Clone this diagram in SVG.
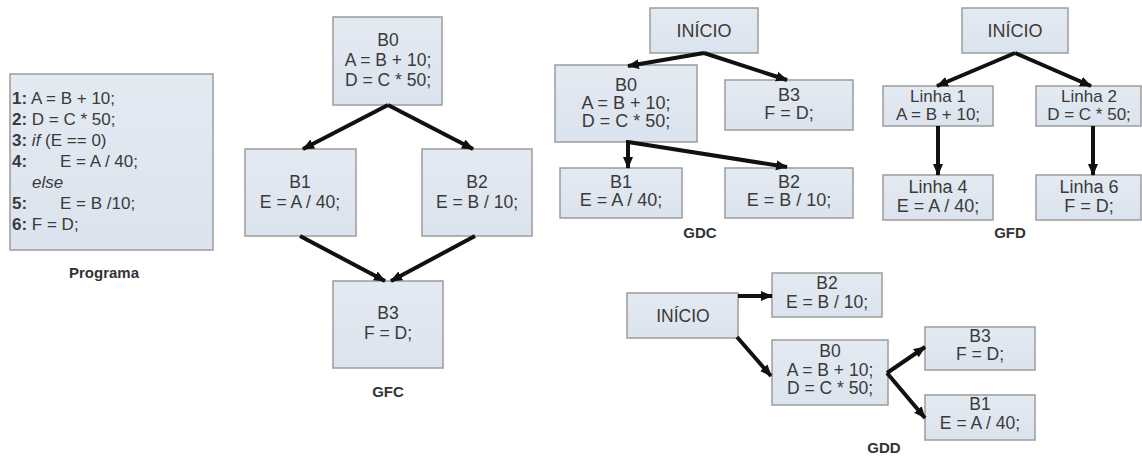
<svg xmlns="http://www.w3.org/2000/svg" width="1142" height="456" viewBox="0 0 1142 456">
  <defs>
    <linearGradient id="boxFill" x1="0" y1="0" x2="0" y2="1">
      <stop offset="0" stop-color="#e4eaf2"/>
      <stop offset="1" stop-color="#dbe3ee"/>
    </linearGradient>
    <marker id="arrow" markerUnits="userSpaceOnUse" markerWidth="12" markerHeight="12" viewBox="0 0 12 12" refX="11" refY="6" orient="auto">
      <path d="M0,1 L12,6 L0,11 z" fill="#111"/>
    </marker>
  </defs>
  <style>
    .box { fill: url(#boxFill); stroke: #9c9c9c; stroke-width: 1.5; }
    .t { font-family: "Liberation Sans", Arial, sans-serif; font-size: 17.5px; fill: #3a3a3a; text-anchor: middle; }
    .t18 { font-size: 18px; }
    .t17 { font-size: 17px; }
    .code { font-family: "Liberation Sans", Arial, sans-serif; font-size: 17px; fill: #3a3a3a; }
    .num { font-weight: bold; }
    .lbl { font-family: "Liberation Sans", Arial, sans-serif; font-size: 15px; font-weight: bold; fill: #333; text-anchor: middle; }
    .edge { stroke: #111; stroke-width: 4; fill: none; stroke-linejoin: miter; marker-end: url(#arrow); }
    .edge2 { stroke: #111; stroke-width: 4; fill: none; }
  </style>
  <rect width="1142" height="456" fill="#ffffff"/>

  <!-- Source program -->
  <g id="programa">
    <rect class="box" x="10" y="74" width="203" height="176"/>
    <text class="code" y="104"><tspan x="12" class="num">1:</tspan><tspan> A = B + 10;</tspan></text>
    <text class="code" y="125"><tspan x="12" class="num">2:</tspan><tspan> D = C * 50;</tspan></text>
    <text class="code" y="146"><tspan x="12" class="num">3:</tspan><tspan> </tspan><tspan font-style="italic">if</tspan><tspan> (E == 0)</tspan></text>
    <text class="code" y="167"><tspan x="12" class="num">4:</tspan><tspan x="60">E = A / 40;</tspan></text>
    <text class="code" y="188"><tspan x="32" font-style="italic">else</tspan></text>
    <text class="code" y="209"><tspan x="12" class="num">5:</tspan><tspan x="60">E = B /10;</tspan></text>
    <text class="code" y="230"><tspan x="12" class="num">6:</tspan><tspan> F = D;</tspan></text>
    <text class="lbl" x="104" y="278">Programa</text>
  </g>

  <!-- GFC: control flow graph -->
  <g id="gfc-b0">
    <rect class="box" x="333" y="17" width="109" height="88"/>
    <text class="t" x="388" y="46">B0</text>
    <text class="t" x="388" y="66">A = B + 10;</text>
    <text class="t" x="388" y="86">D = C * 50;</text>
  </g>
  <g id="gfc-b1">
    <rect class="box" x="245" y="149" width="111" height="87"/>
    <text class="t" x="300" y="188">B1</text>
    <text class="t" x="300" y="208">E = A / 40;</text>
  </g>
  <g id="gfc-b2">
    <rect class="box" x="422" y="149" width="110" height="87"/>
    <text class="t" x="477" y="188">B2</text>
    <text class="t" x="477" y="208">E = B / 10;</text>
  </g>
  <g id="gfc-b3">
    <rect class="box" x="333" y="281" width="110" height="87"/>
    <text class="t" x="388" y="319">B3</text>
    <text class="t" x="388" y="339">F = D;</text>
  </g>
  <text class="lbl" x="388" y="397">GFC</text>

  <!-- GDC: control dependence graph -->
  <g id="gdc-inicio">
    <rect class="box" x="650" y="8" width="108" height="45"/>
    <text class="t t18" x="704" y="37">INÍCIO</text>
  </g>
  <g id="gdc-b0">
    <rect class="box" x="555" y="65" width="142" height="77"/>
    <text class="t t18" x="626" y="91">B0</text>
    <text class="t t18" x="626" y="109">A = B + 10;</text>
    <text class="t t18" x="626" y="127">D = C * 50;</text>
  </g>
  <g id="gdc-b3">
    <rect class="box" x="725" y="80" width="128" height="50"/>
    <text class="t t18" x="789" y="101">B3</text>
    <text class="t t18" x="789" y="119">F = D;</text>
  </g>
  <g id="gdc-b1">
    <rect class="box" x="560" y="168" width="122" height="50"/>
    <text class="t t18" x="621" y="188">B1</text>
    <text class="t t18" x="621" y="206">E = A / 40;</text>
  </g>
  <g id="gdc-b2">
    <rect class="box" x="725" y="168" width="128" height="50"/>
    <text class="t t18" x="789" y="188">B2</text>
    <text class="t t18" x="789" y="206">E = B / 10;</text>
  </g>
  <text class="lbl" x="700" y="238">GDC</text>

  <!-- GFD: data flow graph -->
  <g id="gfd-inicio">
    <rect class="box" x="962" y="8" width="106" height="45"/>
    <text class="t t18" x="1015" y="37">INÍCIO</text>
  </g>
  <g id="gfd-l1">
    <rect class="box" x="883" y="86" width="110" height="40"/>
    <text class="t t17" x="938" y="102">Linha 1</text>
    <text class="t t17" x="938" y="120">A = B + 10;</text>
  </g>
  <g id="gfd-l2">
    <rect class="box" x="1036" y="86" width="105" height="40"/>
    <text class="t t17" x="1089" y="102">Linha 2</text>
    <text class="t t17" x="1089" y="120">D = C * 50;</text>
  </g>
  <g id="gfd-l4">
    <rect class="box" x="883" y="175" width="110" height="45"/>
    <text class="t t18" x="938" y="193">Linha 4</text>
    <text class="t t18" x="938" y="212">E = A / 40;</text>
  </g>
  <g id="gfd-l6">
    <rect class="box" x="1036" y="175" width="105" height="45"/>
    <text class="t t18" x="1089" y="193">Linha 6</text>
    <text class="t t18" x="1089" y="212">F = D;</text>
  </g>
  <text class="lbl" x="1010" y="238">GFD</text>

  <!-- GDD: data dependence graph -->
  <g id="gdd-inicio">
    <rect class="box" x="627" y="293" width="111" height="45"/>
    <text class="t" x="683" y="322">INÍCIO</text>
  </g>
  <g id="gdd-b2">
    <rect class="box" x="772" y="273" width="110" height="44"/>
    <text class="t" x="827" y="289">B2</text>
    <text class="t" x="827" y="308">E = B / 10;</text>
  </g>
  <g id="gdd-b0">
    <rect class="box" x="772" y="340" width="116" height="65"/>
    <text class="t" x="830" y="357">B0</text>
    <text class="t" x="830" y="376">A = B + 10;</text>
    <text class="t" x="830" y="394">D = C * 50;</text>
  </g>
  <g id="gdd-b3">
    <rect class="box" x="925" y="327" width="110" height="43"/>
    <text class="t" x="980" y="342">B3</text>
    <text class="t" x="980" y="360">F = D;</text>
  </g>
  <g id="gdd-b1">
    <rect class="box" x="925" y="395" width="110" height="45"/>
    <text class="t" x="980" y="410">B1</text>
    <text class="t" x="980" y="429">E = A / 40;</text>
  </g>
  <text class="lbl" x="884" y="453">GDD</text>

  <!-- Connectors -->
  <g id="connectors">
    <!-- GFC -->
    <line class="edge" x1="388" y1="105" x2="303" y2="149"/>
    <line class="edge" x1="388" y1="105" x2="473" y2="149"/>
    <line class="edge" x1="300" y1="236" x2="385" y2="281"/>
    <line class="edge" x1="475" y1="236" x2="391" y2="281"/>
    <!-- GDC -->
    <line class="edge" x1="704" y1="53" x2="628" y2="66"/>
    <line class="edge" x1="704" y1="53" x2="787" y2="80"/>
    <line class="edge2" x1="626" y1="142" x2="628" y2="142"/>
    <line class="edge" x1="628" y1="141" x2="628" y2="168"/>
    <line class="edge" x1="628" y1="142" x2="787" y2="167"/>
    <!-- GFD -->
    <line class="edge" x1="1015" y1="53" x2="937" y2="86"/>
    <line class="edge" x1="1015" y1="53" x2="1091" y2="86"/>
    <line class="edge" x1="938" y1="126" x2="938" y2="175"/>
    <line class="edge" x1="1093" y1="126" x2="1093" y2="175"/>
    <!-- GDD -->
    <line class="edge" x1="738" y1="296" x2="772" y2="296"/>
    <line class="edge" x1="737" y1="337" x2="771" y2="376"/>
    <line class="edge" x1="887" y1="373" x2="925" y2="347"/>
    <line class="edge" x1="887" y1="373" x2="925" y2="418"/>
  </g>
</svg>
